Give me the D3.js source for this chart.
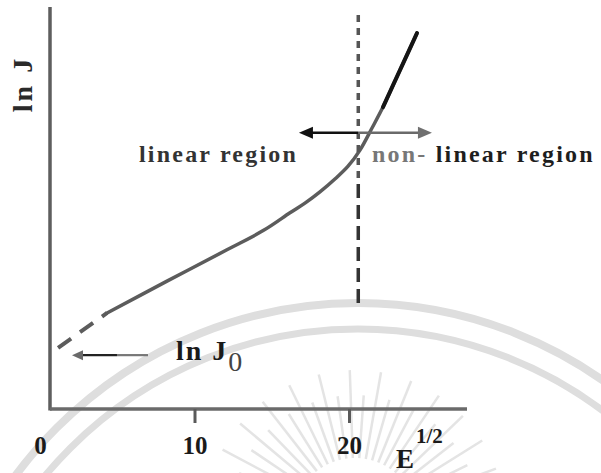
<!DOCTYPE html>
<html><head><meta charset="utf-8">
<script src="https://cdn.jsdelivr.net/npm/d3@7"></script>
<style>
html,body{margin:0;padding:0;background:#fff;}
svg{display:block;}
text{font-family:"Liberation Serif","Times New Roman",serif;font-weight:bold;}
</style></head><body>
<svg id="chart" width="601" height="473"></svg>
<script>
// ln J against E^1/2: linear (Schottky) region and non-linear region
const curveE   = [1.17, 4.34, 8.22, 12.10, 14.50, 16.18, 17.15, 18.12, 19.09, 19.94, 20.71, 21.49, 22.20, 23.30, 24.40];
const curveLnJ = [1.52, 2.39, 3.18, 3.96, 4.45, 4.88, 5.12, 5.40, 5.72, 6.04, 6.44, 6.99, 7.51, 8.43, 9.35];
const extrapolatedCount = 2;        // leading points drawn dashed (extrapolation to ln J0)
const darkFromE = 22.2;             // upper part of the curve drawn in darker ink
const xTicks = [0, 10, 20];
const xTickLabels = ["0", "10", "20"];
const boundaryE = 20.6;             // dashed boundary between regions
const boundaryLnJ = [2.51, 9.80];
const regionArrowE = [16.76, 25.37];
const regionArrowLnJ = 6.87;
const lnJ0ArrowE = [2.07, 6.99];
const lnJ0ArrowLnJ = 1.34;

const W = 601, H = 473;
const frame = {left: 50, right: 467, top: 7, bottom: 409};

const svg = d3.select("#chart");

const x = d3.scaleLinear().domain([0, 20]).range([40, 349]);
const y = d3.scaleLinear().domain([0, 10]).range([frame.bottom, frame.top]);

// faint background emblem
const wm = svg.append("g").attr("fill", "none").attr("stroke", "#dedede");
wm.append("circle").attr("cx", 358).attr("cy", 729).attr("r", 426).attr("stroke-width", 8);
wm.append("circle").attr("cx", 358).attr("cy", 736).attr("r", 407).attr("stroke-width", 7);
for (let a = 196; a <= 344; a += 6) {
  const r = a * Math.PI / 180;
  const r0 = 62, r1 = (Math.round(a / 6) % 2) ? 150 : 125;
  wm.append("line")
    .attr("x1", 355 + r0 * Math.cos(r)).attr("y1", 520 + r0 * Math.sin(r))
    .attr("x2", 355 + r1 * Math.cos(r)).attr("y2", 520 + r1 * Math.sin(r))
    .attr("stroke-width", 2.5).attr("stroke", "#e4e4e4");
}

// axes frame
svg.append("line").attr("x1", frame.left).attr("x2", frame.left)
  .attr("y1", frame.top).attr("y2", frame.bottom + 1.5)
  .attr("stroke", "#5e5e5e").attr("stroke-width", 3.5);
svg.append("line").attr("x1", frame.left).attr("x2", frame.right)
  .attr("y1", frame.bottom).attr("y2", frame.bottom)
  .attr("stroke", "#6a6a6a").attr("stroke-width", 3.5);

// bottom axis ticks and labels
const xAxis = d3.axisBottom(x).tickValues(xTicks).tickSize(14)
  .tickFormat((d, i) => xTickLabels[i]);
const gx = svg.append("g").attr("transform", `translate(0,${frame.bottom})`).call(xAxis);
gx.select(".domain").remove();
gx.selectAll(".tick line").attr("stroke", "#5a5a5a").attr("stroke-width", 3)
  .filter(d => d === 0).remove();
gx.selectAll(".tick text").attr("y", 45).attr("dy", 0)
  .attr("font-size", 25).attr("font-family", "'Liberation Serif','Times New Roman',serif")
  .attr("font-weight", "bold").attr("fill", "#1a1a1a");

// axis titles
svg.append("text").attr("transform", "translate(32,84) rotate(-90)")
  .attr("text-anchor", "middle").attr("font-size", 28).attr("letter-spacing", 3)
  .attr("fill", "#2a2a2a").text("ln J");
const xt = svg.append("text").attr("x", 396).attr("y", 468).attr("font-size", 27).attr("fill", "#1a1a1a");
xt.append("tspan").text("E");
xt.append("tspan").attr("dx", 2).attr("dy", -25).attr("font-size", 21).text("1/2");

// curve
const pts = curveE.map((e, i) => [e, curveLnJ[i]]);
const line = d3.line().x(d => x(d[0])).y(d => y(d[1])).curve(d3.curveCatmullRom.alpha(0.5));
svg.append("path").datum(pts.slice(0, extrapolatedCount))
  .attr("d", line).attr("fill", "none").attr("stroke", "#5c5c5c")
  .attr("stroke-width", 4).attr("stroke-dasharray", "16,11");
svg.append("path").datum(pts.slice(extrapolatedCount - 1))
  .attr("d", line).attr("fill", "none").attr("stroke", "#5c5c5c")
  .attr("stroke-width", 3.5).attr("stroke-linecap", "round");
svg.append("path").datum(pts.filter(d => d[0] >= darkFromE))
  .attr("d", line).attr("fill", "none").attr("stroke", "#151515")
  .attr("stroke-width", 4).attr("stroke-linecap", "round");

// region boundary
const splitLnJ = 5.6;
svg.append("line").attr("x1", x(boundaryE)).attr("x2", x(boundaryE))
  .attr("y1", y(boundaryLnJ[1])).attr("y2", y(splitLnJ))
  .attr("stroke", "#555").attr("stroke-width", 3.5).attr("stroke-dasharray", "7,6");
svg.append("line").attr("x1", x(boundaryE)).attr("x2", x(boundaryE))
  .attr("y1", y(splitLnJ)).attr("y2", y(boundaryLnJ[0]))
  .attr("stroke", "#333").attr("stroke-width", 3.5).attr("stroke-dasharray", "14,7");

// two-headed region arrow
const ay = y(regionArrowLnJ);
const axL = x(regionArrowE[0]), axR = x(regionArrowE[1]), axM = x(boundaryE);
svg.append("line").attr("x1", axL + 10).attr("x2", axM).attr("y1", ay).attr("y2", ay)
  .attr("stroke", "#111").attr("stroke-width", 2.5);
svg.append("line").attr("x1", axM).attr("x2", axR - 10).attr("y1", ay).attr("y2", ay)
  .attr("stroke", "#6a6a6a").attr("stroke-width", 2.5);
svg.append("path").attr("d", `M${axL},${ay} L${axL + 14},${ay - 6} L${axL + 14},${ay + 6} Z`).attr("fill", "#111");
svg.append("path").attr("d", `M${axR},${ay} L${axR - 14},${ay - 6} L${axR - 14},${ay + 6} Z`).attr("fill", "#707070");

// region labels
svg.append("text").attr("x", 139).attr("y", 162).attr("font-size", 24).attr("letter-spacing", 2.2)
  .attr("fill", "#333").text("linear region");
const nl = svg.append("text").attr("x", 372).attr("y", 162).attr("font-size", 24).attr("letter-spacing", 2.2);
nl.append("tspan").attr("fill", "#777").text("non-");
nl.append("tspan").attr("fill", "#1e1e1e").text(" linear region");

// ln J0 arrow and label
const jy = y(lnJ0ArrowLnJ);
const jx0 = x(lnJ0ArrowE[0]), jx1 = x(lnJ0ArrowE[1]);
svg.append("line").attr("x1", jx0 + 9).attr("x2", jx0 + 45).attr("y1", jy).attr("y2", jy)
  .attr("stroke", "#222").attr("stroke-width", 2.2);
svg.append("line").attr("x1", jx0 + 45).attr("x2", jx1).attr("y1", jy).attr("y2", jy)
  .attr("stroke", "#777").attr("stroke-width", 2.2);
svg.append("path").attr("d", `M${jx0},${jy} L${jx0 + 11},${jy - 5} L${jx0 + 11},${jy + 5} Z`).attr("fill", "#6a6a6a");
const j0 = svg.append("text").attr("x", 176).attr("y", 360).attr("font-size", 28).attr("letter-spacing", 2).attr("fill", "#1a1a1a");
j0.append("tspan").text("ln J");
j0.append("tspan").attr("dy", 11).attr("font-weight", "normal").attr("fill", "#444").text("0");
</script>
</body></html>
